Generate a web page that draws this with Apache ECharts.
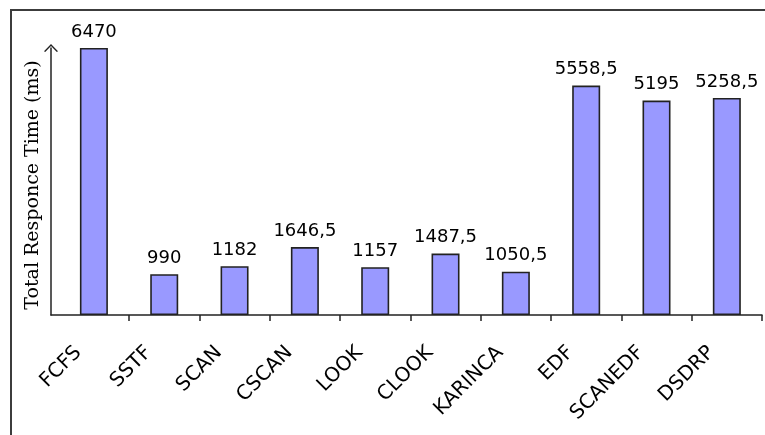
<!DOCTYPE html>
<html>
<head>
<meta charset="utf-8">
<script src="https://cdn.jsdelivr.net/npm/echarts@6/dist/echarts.min.js"></script>
<style>
  html, body { margin: 0; padding: 0; background: #fff; }
  #chart { width: 765px; height: 435px; }
</style>
</head>
<body>
<div id="chart"></div>
<script>
// Disk scheduling algorithms and their total response time (ms)
const categories = ['FCFS', 'SSTF', 'SCAN', 'CSCAN', 'LOOK', 'CLOOK', 'KARINCA', 'EDF', 'SCANEDF', 'DSDRP'];
const responseTimes = [6470, 990, 1182, 1646.5, 1157, 1487.5, 1050.5, 5558.5, 5195, 5258.5];
const yTitle = 'Total Responce Time (ms)';

// decimal comma, as in the source table
const fmt = v => String(v).replace('.', ',');

// category positions on a numeric axis so the y axis can sit left of the first slot
const catIndex = categories.map((_, i) => i);
const slotEdges = categories.map((_, i) => i + 0.5);

const chart = echarts.init(document.getElementById('chart'), null, { renderer: 'canvas' });

chart.setOption({
  backgroundColor: '#ffffff',
  animation: false,
  graphic: [{
    type: 'rect',
    shape: { x: 11, y: 10, width: 820, height: 520 },
    style: { fill: 'none', stroke: '#3c3c3c', lineWidth: 2 },
    silent: true
  }],
  grid: { left: 51, right: 3, top: 48, bottom: 120, containLabel: false },
  xAxis: {
    type: 'value',
    min: -0.61,
    max: 9.5,
    splitLine: { show: false },
    axisLine: { show: true, onZero: false, lineStyle: { color: '#222', width: 1.5 } },
    axisTick: { show: true, customValues: slotEdges, length: 6, lineStyle: { color: '#222', width: 1.5 } },
    axisLabel: {
      show: true,
      customValues: catIndex,
      formatter: v => categories[Math.round(v)],
      rotate: 45,
      margin: 19,
      padding: [0, 22, 0, 0],
      fontFamily: 'DejaVu Sans',
      fontSize: 20,
      color: '#000'
    }
  },
  yAxis: {
    type: 'value',
    min: 0,
    max: Math.max(...responseTimes),
    name: yTitle,
    nameLocation: 'middle',
    nameGap: 8,
    nameTextStyle: { fontFamily: 'DejaVu Serif', fontSize: 19, color: '#000', padding: [0, 7, 0, 0] },
    splitLine: { show: false },
    axisTick: { show: false },
    axisLabel: { show: false },
    axisLine: {
      show: true,
      onZero: false,
      symbol: ['none', 'path://M7,0 L14,7.2 L12.8,8 L7,2 L1.2,8 L0,7.2 Z'],
      symbolSize: [14, 8],
      lineStyle: { color: '#222', width: 1.5 }
    }
  },
  series: [{
    type: 'bar',
    data: responseTimes.map((v, i) => [i, v]),
    barWidth: 28,
    itemStyle: { color: '#9999ff', borderColor: '#222', borderWidth: 1.6 },
    label: {
      show: true,
      position: 'top',
      distance: 7,
      formatter: p => fmt(p.value[1]),
      fontFamily: 'DejaVu Sans',
      fontSize: 18,
      color: '#000'
    }
  }]
});
</script>
</body>
</html>
